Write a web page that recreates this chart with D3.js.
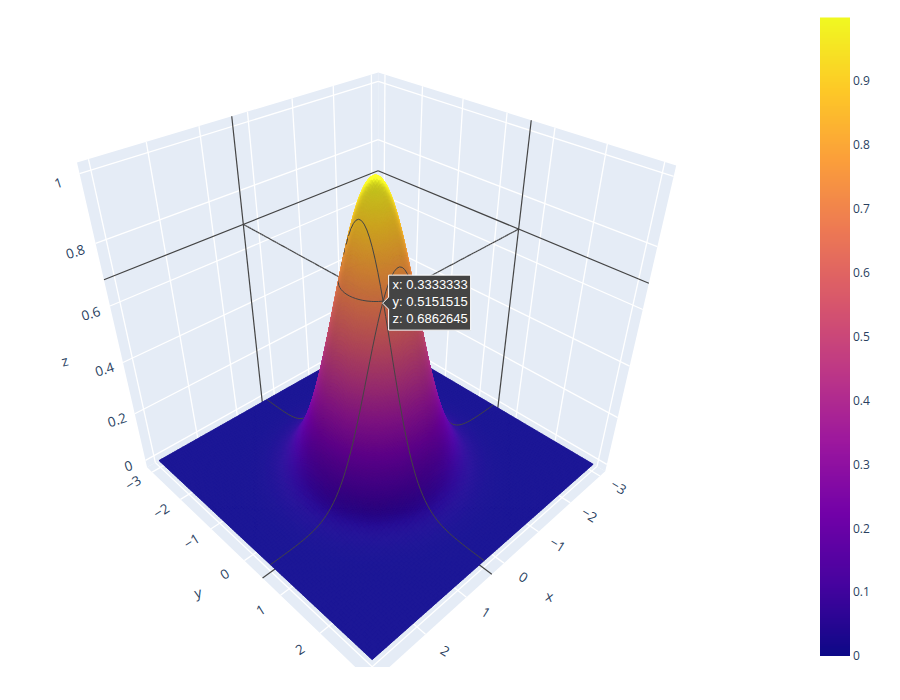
<!DOCTYPE html>
<html>
<head>
<meta charset="utf-8">
<script src="https://cdn.jsdelivr.net/npm/d3@7"></script>
<style>
  html, body { margin: 0; padding: 0; background: #fff; }
  text { font-family: "Open Sans", sans-serif; fill: #2a3f5f; }
</style>
</head>
<body>
<div id="graph-container"></div>
<script>
// surface height along one axis, |x| = 0.0303 ... 3, the sheet is profile(x) * profile(y)
const profileHalf = [
  0.9991, 0.9918, 0.9773, 0.9560, 0.9283, 0.8948, 0.8563, 0.8133, 0.7669, 0.7178,
  0.6670, 0.6152, 0.5633, 0.5120, 0.4620, 0.4138, 0.3679, 0.3247, 0.2845, 0.2474,
  0.2136, 0.1831, 0.1557, 0.1316, 0.1103, 0.0918, 0.0758, 0.0622, 0.0506, 0.0409,
  0.0328, 0.0261, 0.0207, 0.0162, 0.0126, 0.0098, 0.0075, 0.0057, 0.0043, 0.0032,
  0.0024, 0.0018, 0.0013, 0.00096, 0.00069, 0.0005, 0.00035, 0.00025, 0.00018, 0.00012
];
const profile = profileHalf.slice().reverse().concat(profileHalf);

const xyTicks = [-3, -2, -1, 0, 1, 2, 3];
const xyLabels = [-3, -2, -1, 0, 1, 2];
const zTicks = [0, 0.2, 0.4, 0.6, 0.8, 1];
const colorTicks = [0, 0.1, 0.2, 0.3, 0.4, 0.5, 0.6, 0.7, 0.8, 0.9];
const plasma = ["#0d0887", "#46039f", "#7201a8", "#9c179e", "#bd3786", "#d8576b", "#ed7953", "#fb9f3a", "#fdca26", "#f0f921"];

const hoverX = 0.3333333, hoverY = 0.5151515, hoverZ = 0.6862645;
const hoverIx = 55, hoverIy = 58;  // grid columns of the hovered point

const zMax = d3.max(profileHalf) * d3.max(profileHalf);

const width = 900, height = 700;
const svg = d3.select("#graph-container").append("svg")
  .attr("width", width)
  .attr("height", height)
  .style("display", "block");

// scene scales, data -> unit cube
const gridScale = d3.scaleLinear().domain([0, 99]).range([-3, 3]);
const xyScale = d3.scaleLinear().domain([-3.1875, 3.1875]).range([-1, 1]);
const zScale = d3.scaleLinear().domain([-zMax / 32, zMax + zMax / 32]).range([-1, 1]);

const colorDomain = d3.range(plasma.length).map(i => zMax * i / (plasma.length - 1));
const color = d3.scaleLinear().domain(colorDomain).range(plasma).interpolate(d3.interpolateRgb);

// camera
const dist = 4.33, focal = 795, cx = 375.5, cy = 337;
const elev = Math.atan(Math.SQRT1_2), azim = Math.PI / 4 + 0.012;
const eye = [dist * Math.cos(elev) * Math.cos(azim), dist * Math.cos(elev) * Math.sin(azim), dist * Math.sin(elev)];

function dot(a, b) { return a[0] * b[0] + a[1] * b[1] + a[2] * b[2]; }
function sub(a, b) { return [a[0] - b[0], a[1] - b[1], a[2] - b[2]]; }
function cross(a, b) { return [a[1] * b[2] - a[2] * b[1], a[2] * b[0] - a[0] * b[2], a[0] * b[1] - a[1] * b[0]]; }
function unit(a) { let l = Math.sqrt(dot(a, a)); return [a[0] / l, a[1] / l, a[2] / l]; }

const forward = unit([-eye[0], -eye[1], -eye[2]]);
const right = unit(cross(forward, [0, 0, 1]));
const up = cross(right, forward);

function project(p) {
  let q = sub(p, eye), d = dot(forward, q);
  return [cx + focal * dot(right, q) / d, cy - focal * dot(up, q) / d, d];
}
function cube(x, y, z) { return [xyScale(x), xyScale(y), zScale(z)]; }

function smooth(t) { t = Math.max(0, Math.min(1, t)); return t * t * (3 - 2 * t); }

// light sits far above the camera, faces turned away drop to the ambient 0.8, plus a small sheen
function shade(base, n) {
  let nl = dot(n, up);
  let diffuse = 0.8 + 0.2 * smooth((nl + 0.15) / 0.5);
  let add = 15 * smooth(nl / 0.6);
  let c = d3.rgb(base);
  return d3.rgb(c.r * diffuse + add, c.g * diffuse + add, c.b * diffuse + add).formatRgb();
}

const line = d3.line();
function polyPath(pts) { return line(pts.map(p => { let s = project(p); return [s[0], s[1]]; })) + "Z"; }
function linePath(pts) { return line(pts.map(p => { let s = project(p); return [s[0], s[1]]; })); }

const scene = svg.append("g").attr("clip-path", "url(#scene-clip)");
svg.append("clipPath").attr("id", "scene-clip").append("rect").attr("width", width).attr("height", 667);

// walls
const walls = [
  { name: "floor", pts: [[-1, -1, -1], [1, -1, -1], [1, 1, -1], [-1, 1, -1]] },
  { name: "ywall", pts: [[-1, -1, -1], [1, -1, -1], [1, -1, 1], [-1, -1, 1]] },
  { name: "xwall", pts: [[-1, -1, -1], [-1, 1, -1], [-1, 1, 1], [-1, -1, 1]] }
];
scene.selectAll(".wall").data(walls).join("path")
  .attr("class", "wall")
  .attr("fill", "#e5ecf6")
  .attr("d", d => polyPath(d.pts));

// gridlines
let grid = [];
xyTicks.forEach(t => {
  let c = xyScale(t);
  grid.push([[c, -1, -1], [c, 1, -1]], [[-1, c, -1], [1, c, -1]]);
  grid.push([[c, -1, -1], [c, -1, 1]], [[-1, c, -1], [-1, c, 1]]);
});
zTicks.forEach(t => {
  let c = zScale(t);
  grid.push([[-1, -1, c], [1, -1, c]], [[-1, -1, c], [-1, 1, c]]);
});
scene.selectAll(".grid").data(grid).join("path")
  .attr("class", "grid")
  .attr("fill", "none")
  .attr("stroke", "#fff")
  .attr("stroke-width", 1.3)
  .attr("d", linePath);

// hover spikes lying on the walls and the floor
const hp = cube(hoverX, hoverY, hoverZ);
const spikes = [
  [[hp[0], -1, -1], [hp[0], -1, 1]],
  [[-1, -1, hp[2]], [1, -1, hp[2]]],
  [[-1, hp[1], -1], [-1, hp[1], 1]],
  [[-1, -1, hp[2]], [-1, 1, hp[2]]],
  [[hp[0], -1, -1], [hp[0], 1, -1]],
  [[-1, hp[1], -1], [1, hp[1], -1]]
];
scene.selectAll(".spike").data(spikes).join("path")
  .attr("class", "spike")
  .attr("fill", "none")
  .attr("stroke", "#444")
  .attr("stroke-width", 1.2)
  .attr("d", linePath);

// surface cells plus everything which has to be depth sorted with them
let items = [];
function gridPoint(i, j) {
  return cube(gridScale(i), gridScale(j), profile[i] * profile[j]);
}
function vertexNormal(i, j) {
  let i0 = Math.max(i - 1, 0), i1 = Math.min(i + 1, 99), j0 = Math.max(j - 1, 0), j1 = Math.min(j + 1, 99);
  let n = unit(cross(sub(gridPoint(i1, j), gridPoint(i0, j)), sub(gridPoint(i, j1), gridPoint(i, j0))));
  return n[2] < 0 ? [-n[0], -n[1], -n[2]] : n;
}
// bilinear lookup inside one cell, the gl surface fills its cells the same way
function mix4(a, b, c, e, u, v) { return a * (1 - u) * (1 - v) + b * u * (1 - v) + c * u * v + e * (1 - u) * v; }
function mixPoint(a, b, c, e, u, v) {
  return [mix4(a[0], b[0], c[0], e[0], u, v), mix4(a[1], b[1], c[1], e[1], u, v), mix4(a[2], b[2], c[2], e[2], u, v)];
}

// base sheet under the cells so no seam shows the wall through
const sheetFill = shade(color(0), [0, 0, 1]);
items.push({
  d: Infinity,
  path: polyPath([gridPoint(0, 0), gridPoint(99, 0), gridPoint(99, 99), gridPoint(0, 99)]),
  fill: sheetFill, stroke: "none", sw: 0
});

for (let i = 0; i < 99; i++) {
  for (let j = 0; j < 99; j++) {
    let a = gridPoint(i, j), b = gridPoint(i + 1, j), c = gridPoint(i + 1, j + 1), e = gridPoint(i, j + 1);
    let za = profile[i] * profile[j], zb = profile[i + 1] * profile[j], zc = profile[i + 1] * profile[j + 1], ze = profile[i] * profile[j + 1];
    let na = vertexNormal(i, j), nb = vertexNormal(i + 1, j), nc = vertexNormal(i + 1, j + 1), ne = vertexNormal(i, j + 1);
    let spread = d3.max([za, zb, zc, ze]) - d3.min([za, zb, zc, ze]);
    let parts = Math.max(1, Math.min(4, Math.ceil(spread / 0.012)));
    for (let s = 0; s < parts; s++) {
      for (let t = 0; t < parts; t++) {
        let u0 = s / parts, u1 = (s + 1) / parts, v0 = t / parts, v1 = (t + 1) / parts, um = (u0 + u1) / 2, vm = (v0 + v1) / 2;
        let mid = mixPoint(a, b, c, e, um, vm);
        let fill = shade(color(mix4(za, zb, zc, ze, um, vm)), unit(mixPoint(na, nb, nc, ne, um, vm)));
        items.push({
          d: project(mid)[2],
          path: polyPath([mixPoint(a, b, c, e, u0, v0), mixPoint(a, b, c, e, u1, v0), mixPoint(a, b, c, e, u1, v1), mixPoint(a, b, c, e, u0, v1)]),
          fill: fill, stroke: fill, sw: 0.7
        });
      }
    }
  }
}

function pushLine(pts, bias, sw) {
  for (let k = 0; k < pts.length - 1; k++) {
    let m = [(pts[k][0] + pts[k + 1][0]) / 2, (pts[k][1] + pts[k + 1][1]) / 2, (pts[k][2] + pts[k + 1][2]) / 2];
    items.push({ d: project(m)[2] - bias, path: linePath([pts[k], pts[k + 1]]), fill: "none", stroke: "#444", sw: sw });
  }
}

// contours through the hovered point
pushLine(d3.range(100).map(j => gridPoint(hoverIx, j)), 0.03, 1);
pushLine(d3.range(100).map(i => gridPoint(i, hoverIy)), 0.03, 1);
let flat = [];
for (let j = 0; j < 100; j++) for (let i = 0; i < 100; i++) flat.push(profile[i] * profile[j]);
let ring = d3.contours().size([100, 100]).thresholds([hoverZ])(flat)[0];
ring.coordinates.forEach(poly => poly.forEach(r => {
  pushLine(r.map(q => cube(gridScale(q[0] - 0.5), gridScale(q[1] - 0.5), hoverZ)), 0.03, 1);
}));

// spikes from the point to the two back walls
function spikeTo(end) {
  pushLine(d3.range(61).map(k => [hp[0] + (end[0] - hp[0]) * k / 60, hp[1] + (end[1] - hp[1]) * k / 60, hp[2] + (end[2] - hp[2]) * k / 60]), 0, 1.2);
}
spikeTo([hp[0], -1, hp[2]]);
spikeTo([-1, hp[1], hp[2]]);

items.sort((a, b) => b.d - a.d);
scene.selectAll(".cell").data(items).join("path")
  .attr("class", "cell")
  .attr("d", d => d.path)
  .attr("fill", d => d.fill)
  .attr("stroke", d => d.stroke)
  .attr("stroke-width", d => d.sw);

// 3d axis labels, tilted along the projected axes
function tickLabel(t) { return d3.format("~g")(t).replace("-", "\u2212"); }
function putLabel(p, text, rot, size) {
  let s = project(p);
  scene.append("text")
    .attr("transform", "translate(" + s[0] + "," + s[1] + ") rotate(" + rot + ")")
    .attr("text-anchor", "middle")
    .attr("dy", "0.35em")
    .attr("font-size", size)
    .text(text);
}
xyLabels.forEach(t => {
  putLabel([1.13, xyScale(t), -1], tickLabel(t), -32, 13.5);
  putLabel([xyScale(t), 1.13, -1], tickLabel(t), 32, 13.5);
});
zTicks.forEach(t => {
  putLabel([1.08, -1.08, zScale(t) - 0.05], tickLabel(t), -18, 13.5);
});
putLabel([1.3, 0, -1], "y", -14, 14);
putLabel([0, 1.3, -1], "x", 14, 14);
putLabel([1.23, -1.23, -0.18], "z", -14, 14);

// colorbar
const barScale = d3.scaleLinear().domain([0, zMax]).range([656, 18]);
const barSteps = d3.range(0, 319).map(i => i / 319 * zMax);
svg.append("g").selectAll("rect").data(barSteps).join("rect")
  .attr("x", 820)
  .attr("width", 30)
  .attr("y", d => barScale(d) - 2.5)
  .attr("height", 2.5)
  .attr("fill", d => color(d));
const barAxis = svg.append("g")
  .attr("transform", "translate(850,0)")
  .call(d3.axisRight(barScale).tickValues(colorTicks).tickSize(0).tickPadding(3).tickFormat(d3.format("~g")));
barAxis.select(".domain").remove();
barAxis.selectAll("text").style("font-family", '"Open Sans", sans-serif').attr("font-size", 12);

// hover label
const tip = project(hp);
const hover = svg.append("g").attr("transform", "translate(" + (tip[0] - 0.5) + "," + (tip[1] + 2) + ")");
hover.append("path")
  .attr("d", "M0,0L6,-6V-28H88V27H6V6Z")
  .attr("fill", "#444")
  .attr("stroke", "#fff")
  .attr("stroke-width", 1);
hover.selectAll("text").data(["x: " + hoverX, "y: " + hoverY, "z: " + hoverZ]).join("text")
  .attr("x", 10)
  .attr("y", (d, i) => -14 + i * 17)
  .style("font-family", "Arial, 'Liberation Sans', sans-serif")
  .style("fill", "#fff")
  .attr("font-size", 13)
  .text(d => d);
</script>
</body>
</html>
